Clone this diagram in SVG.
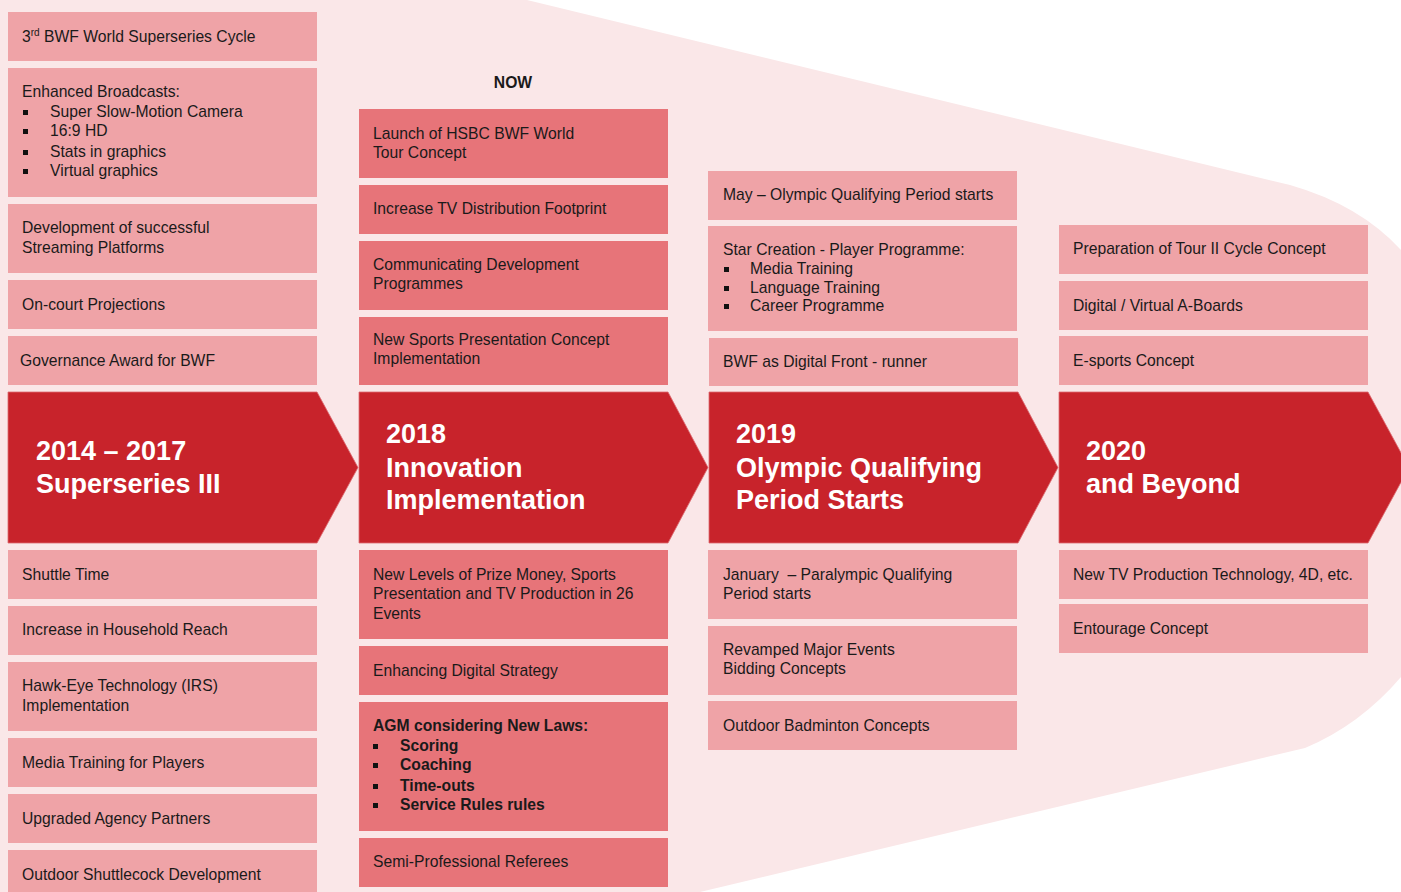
<svg xmlns="http://www.w3.org/2000/svg" width="1401" height="892" viewBox="0 0 1401 892">
<defs>
<style>
.bg{fill:#fae7e8}
.lt{fill:#efa3a7}
.md{fill:#e77479}
.chev{fill:#c8232b;stroke:#dc6a70;stroke-width:0.8}
.t{font-family:"Liberation Sans",Arial,sans-serif;font-size:15.7px;fill:#1a1a1a}
.b{font-weight:bold}
.h{font-family:"Liberation Sans",Arial,sans-serif;font-size:27px;font-weight:bold;fill:#ffffff}
.sq{fill:#111111}
</style>
</defs>
<rect x="0" y="0" width="1401" height="892" fill="#ffffff"/>
<path class="bg" d="M0,0 L527,0 L1290,185 Q1360,205 1401,250 L1401,677 Q1360,725 1305,748 L700,892 L0,892 Z"/>

<g id="col1">
<g id="n-superseries-cycle"><rect class="lt" x="8" y="12" width="309" height="49"/><text class="t" x="22" y="42">3<tspan font-size="10" dy="-6">rd</tspan><tspan dy="6"> BWF World Superseries Cycle</tspan></text></g>
<g id="n-enhanced"><rect class="lt" x="8" y="68" width="309" height="129"/>
<text class="t" x="22" y="97">Enhanced Broadcasts:</text>
<rect class="sq" x="23" y="110" width="5" height="5"/><text class="t" x="50" y="117">Super Slow-Motion Camera</text>
<rect class="sq" x="23" y="129" width="5" height="5"/><text class="t" x="50" y="136">16:9 HD</text>
<rect class="sq" x="23" y="150" width="5" height="5"/><text class="t" x="50" y="157">Stats in graphics</text>
<rect class="sq" x="23" y="169" width="5" height="5"/><text class="t" x="50" y="176">Virtual graphics</text></g>
<g id="n-streaming"><rect class="lt" x="8" y="204" width="309" height="69"/><text class="t" x="22" y="233">Development of successful</text><text class="t" x="22" y="253">Streaming Platforms</text></g>
<g id="n-oncourt"><rect class="lt" x="8" y="280" width="309" height="49"/><text class="t" x="22" y="310">On-court Projections</text></g>
<g id="n-governance"><rect class="lt" x="8" y="336" width="309" height="49"/><text class="t" x="20" y="366">Governance Award for BWF</text></g>
<g id="h-2014"><path class="chev" d="M8,392 L317,392 L358,467.5 L317,543 L8,543 Z"/><text class="h" x="36" y="460">2014 – 2017</text><text class="h" x="36" y="493">Superseries III</text></g>
<g id="n-shuttletime"><rect class="lt" x="8" y="550" width="309" height="49"/><text class="t" x="22" y="580">Shuttle Time</text></g>
<g id="n-household"><rect class="lt" x="8" y="606" width="309" height="49"/><text class="t" x="22" y="635">Increase in Household Reach</text></g>
<g id="n-hawkeye"><rect class="lt" x="8" y="662" width="309" height="69"/><text class="t" x="22" y="691">Hawk-Eye Technology (IRS)</text><text class="t" x="22" y="711">Implementation</text></g>
<g id="n-mediatraining"><rect class="lt" x="8" y="738" width="309" height="49"/><text class="t" x="22" y="768">Media Training for Players</text></g>
<g id="n-agency"><rect class="lt" x="8" y="794" width="309" height="49"/><text class="t" x="22" y="824">Upgraded Agency Partners</text></g>
<g id="n-outdoorshuttle"><rect class="lt" x="8" y="850" width="309" height="49"/><text class="t" x="22" y="880">Outdoor Shuttlecock Development</text></g>
</g>

<g id="col2">
<text class="t b" x="513" y="88" text-anchor="middle">NOW</text>
<g id="n-launch"><rect class="md" x="359" y="109" width="309" height="69"/><text class="t" x="373" y="139">Launch of HSBC BWF World</text><text class="t" x="373" y="158">Tour Concept</text></g>
<g id="n-tvdist"><rect class="md" x="359" y="185" width="309" height="49"/><text class="t" x="373" y="214">Increase TV Distribution Footprint</text></g>
<g id="n-communicating"><rect class="md" x="359" y="241" width="309" height="69"/><text class="t" x="373" y="270">Communicating Development</text><text class="t" x="373" y="289">Programmes</text></g>
<g id="n-sportspres"><rect class="md" x="359" y="317" width="309" height="68"/><text class="t" x="373" y="345">New Sports Presentation Concept</text><text class="t" x="373" y="364">Implementation</text></g>
<g id="h-2018"><path class="chev" d="M359,392 L668,392 L708,467.5 L668,543 L359,543 Z"/><text class="h" x="386" y="443">2018</text><text class="h" x="386" y="477">Innovation</text><text class="h" x="386" y="509">Implementation</text></g>
<g id="n-prizemoney"><rect class="md" x="359" y="550" width="309" height="89"/><text class="t" x="373" y="580">New Levels of Prize Money, Sports</text><text class="t" x="373" y="599">Presentation and TV Production in 26</text><text class="t" x="373" y="619">Events</text></g>
<g id="n-digitalstrategy"><rect class="md" x="359" y="646" width="309" height="49"/><text class="t" x="373" y="676">Enhancing Digital Strategy</text></g>
<g id="n-agm"><rect class="md" x="359" y="702" width="309" height="129"/>
<text class="t b" x="373" y="731">AGM considering New Laws:</text>
<rect class="sq" x="373" y="744" width="5" height="5"/><text class="t b" x="400" y="751">Scoring</text>
<rect class="sq" x="373" y="763" width="5" height="5"/><text class="t b" x="400" y="770">Coaching</text>
<rect class="sq" x="373" y="784" width="5" height="5"/><text class="t b" x="400" y="791">Time-outs</text>
<rect class="sq" x="373" y="803" width="5" height="5"/><text class="t b" x="400" y="810">Service Rules rules</text></g>
<g id="n-referees"><rect class="md" x="359" y="838" width="309" height="49"/><text class="t" x="373" y="867">Semi-Professional Referees</text></g>
</g>

<g id="col3">
<g id="n-may"><rect class="lt" x="708" y="171" width="309" height="49"/><text class="t" x="723" y="200">May – Olympic Qualifying Period starts</text></g>
<g id="n-star"><rect class="lt" x="708" y="226" width="309" height="105"/>
<text class="t" x="723" y="255">Star Creation - Player Programme:</text>
<rect class="sq" x="724" y="267" width="5" height="5"/><text class="t" x="750" y="274">Media Training</text>
<rect class="sq" x="724" y="286" width="5" height="5"/><text class="t" x="750" y="293">Language Training</text>
<rect class="sq" x="724" y="304" width="5" height="5"/><text class="t" x="750" y="311">Career Programme</text></g>
<g id="n-frontrunner"><rect class="lt" x="709" y="338" width="309" height="48"/><text class="t" x="723" y="367">BWF as Digital Front - runner</text></g>
<g id="h-2019"><path class="chev" d="M709,392 L1018,392 L1058,467.5 L1018,543 L709,543 Z"/><text class="h" x="736" y="443">2019</text><text class="h" x="736" y="477">Olympic Qualifying</text><text class="h" x="736" y="509">Period Starts</text></g>
<g id="n-january"><rect class="lt" x="708" y="550" width="309" height="69"/><text class="t" x="723" y="580" xml:space="preserve">January  – Paralympic Qualifying</text><text class="t" x="723" y="599">Period starts</text></g>
<g id="n-revamped"><rect class="lt" x="708" y="626" width="309" height="69"/><text class="t" x="723" y="655">Revamped Major Events</text><text class="t" x="723" y="674">Bidding Concepts</text></g>
<g id="n-outdoorbadminton"><rect class="lt" x="708" y="701" width="309" height="49"/><text class="t" x="723" y="731">Outdoor Badminton Concepts</text></g>
</g>

<g id="col4">
<g id="n-tour2"><rect class="lt" x="1059" y="225" width="309" height="49"/><text class="t" x="1073" y="254">Preparation of Tour II Cycle Concept</text></g>
<g id="n-aboards"><rect class="lt" x="1059" y="281" width="309" height="49"/><text class="t" x="1073" y="311">Digital / Virtual A-Boards</text></g>
<g id="n-esports"><rect class="lt" x="1059" y="336" width="309" height="49"/><text class="t" x="1073" y="366">E-sports Concept</text></g>
<g id="h-2020"><path class="chev" d="M1059,392 L1368,392 L1409,467.5 L1368,543 L1059,543 Z"/><text class="h" x="1086" y="460">2020</text><text class="h" x="1086" y="493">and Beyond</text></g>
<g id="n-newtv"><rect class="lt" x="1059" y="550" width="309" height="49"/><text class="t" x="1073" y="580">New TV Production Technology, 4D, etc.</text></g>
<g id="n-entourage"><rect class="lt" x="1059" y="604" width="309" height="49"/><text class="t" x="1073" y="634">Entourage Concept</text></g>
</g>
<g id="connectors"/>
</svg>
